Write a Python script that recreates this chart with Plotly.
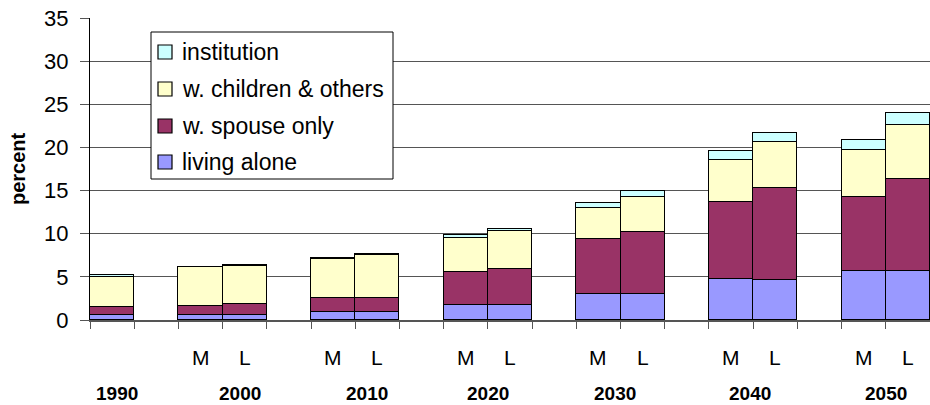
import plotly.graph_objects as go

# Bar slots along the category axis (blank slots separate the decades)
slots = ["1990", "", "2000 M", "2000 L", "", "2010 M", "2010 L", "",
         "2020 M", "2020 L", "", "2030 M", "2030 L", "", "2040 M", "2040 L",
         "", "2050 M", "2050 L"]
scenario_labels = ["", "", "M", "L", "", "M", "L", "", "M", "L", "", "M", "L",
                   "", "M", "L", "", "M", "L"]
year_labels = ["1990", "2000", "2010", "2020", "2030", "2040", "2050"]

# Percent of population by living arrangement (None = empty slot)
living_alone = [0.55, None, 0.55, 0.55, None, 0.89, 0.89, None, 1.70, 1.70, None,
                2.97, 2.97, None, 4.75, 4.63, None, 5.71, 5.71]
spouse_only = [0.92, None, 1.11, 1.30, None, 1.70, 1.70, None, 3.82, 4.25, None,
               6.46, 7.19, None, 8.96, 10.63, None, 8.58, 10.66]
children_others = [3.55, None, 4.44, 4.45, None, 4.48, 4.96, None, 3.94, 4.40, None,
                   3.55, 4.13, None, 4.83, 5.37, None, 5.41, 6.23]
institution = [0.18, None, 0.05, 0.05, None, 0.15, 0.05, None, 0.43, 0.19, None,
               0.58, 0.61, None, 1.04, 1.00, None, 1.16, 1.39]

series = [
    ("living alone", living_alone, "#9999FF"),
    ("w. spouse only", spouse_only, "#993366"),
    ("w. children & others", children_others, "#FFFFCC"),
    ("institution", institution, "#CCFFFF"),
]

FONT = "Liberation Sans, Arial, sans-serif"

W, H = 930, 405
ML, MR, MT, MB = 90, 0, 18, 85
PW, PH = W - ML - MR, H - MT - MB


def px_x(px):
    """Horizontal pixel -> paper coordinate."""
    return (px - ML) / PW


def px_y(py):
    """Vertical pixel (from top) -> paper coordinate."""
    return (H - MB - py) / PH


x_idx = list(range(len(slots)))

fig = go.Figure()
for name, vals, color in series:
    fig.add_trace(go.Bar(
        x=x_idx, y=vals, name=name, width=1.0, showlegend=False,
        marker=dict(color=color, line=dict(color="black", width=1.4)),
    ))

# M / L scenario labels under each bar
for i, lab in enumerate(scenario_labels):
    if lab:
        fig.add_annotation(x=i, y=px_y(357), xref="x", yref="paper", text=lab,
                           showarrow=False, xanchor="center", yanchor="middle",
                           font=dict(family=FONT, size=21, color="black"))

# Decade labels under each group (hand-nudged text boxes)
year_pos = [0] + [2.5 + 3 * k for k in range(len(year_labels) - 1)]
year_nudge = [0.11, 0.4, 0.27, 0.0, -0.12, -0.07, 0.0]
for pos, nudge, lab in zip(year_pos, year_nudge, year_labels):
    fig.add_annotation(x=pos + nudge, y=px_y(393), xref="x", yref="paper",
                       text="<b>%s</b>" % lab, showarrow=False,
                       xanchor="center", yanchor="middle",
                       font=dict(family=FONT, size=19, color="black"))

# Vertical axis title
fig.add_annotation(x=px_x(18), y=px_y(169), xref="paper", yref="paper",
                   text="<b>percent</b>", textangle=-90, showarrow=False,
                   xanchor="center", yanchor="middle",
                   font=dict(family=FONT, size=20, color="black"))

# Boxed legend inside the plot, top entry = top of the stack
shapes = [dict(type="rect", xref="paper", yref="paper",
               x0=px_x(151), x1=px_x(393), y0=px_y(179), y1=px_y(32),
               fillcolor="white", line=dict(color="black", width=1), layer="above")]
row_y = [52, 89, 126, 162]
for (name, _, color), ry in zip(reversed(series), row_y):
    shapes.append(dict(type="rect", xref="paper", yref="paper",
                       x0=px_x(158), x1=px_x(172), y0=px_y(ry + 7), y1=px_y(ry - 7),
                       fillcolor=color, line=dict(color="black", width=1.2), layer="above"))
    fig.add_annotation(x=px_x(180), y=px_y(ry), xref="paper", yref="paper",
                       text=name, showarrow=False, xanchor="left", yanchor="middle",
                       font=dict(family=FONT, size=23, color="black"))

fig.update_layout(
    width=W, height=H,
    margin=dict(l=ML, r=MR, t=MT, b=MB, autoexpand=False),
    barmode="stack", bargap=0,
    plot_bgcolor="white", paper_bgcolor="white",
    font=dict(family=FONT, size=19, color="black"),
    showlegend=False,
    shapes=shapes,
    xaxis=dict(
        range=[-0.5, len(slots) - 0.5], showgrid=False, zeroline=False,
        tickvals=[i - 0.5 for i in range(len(slots) + 1)], ticktext=[""] * (len(slots) + 1),
        ticks="outside", ticklen=7, tickcolor="#555", showline=True,
        linecolor="#555", linewidth=2, fixedrange=True,
    ),
    yaxis=dict(
        range=[0, 35], dtick=5, tick0=0, showgrid=True, gridcolor="#555", gridwidth=1,
        zeroline=False, showline=True, linecolor="black", linewidth=1,
        ticks="outside", ticklen=9, tickcolor="#555", ticklabelstandoff=7,
        tickfont=dict(family=FONT, size=22, color="black"),
    ),
)

fig.write_html("out.html")
